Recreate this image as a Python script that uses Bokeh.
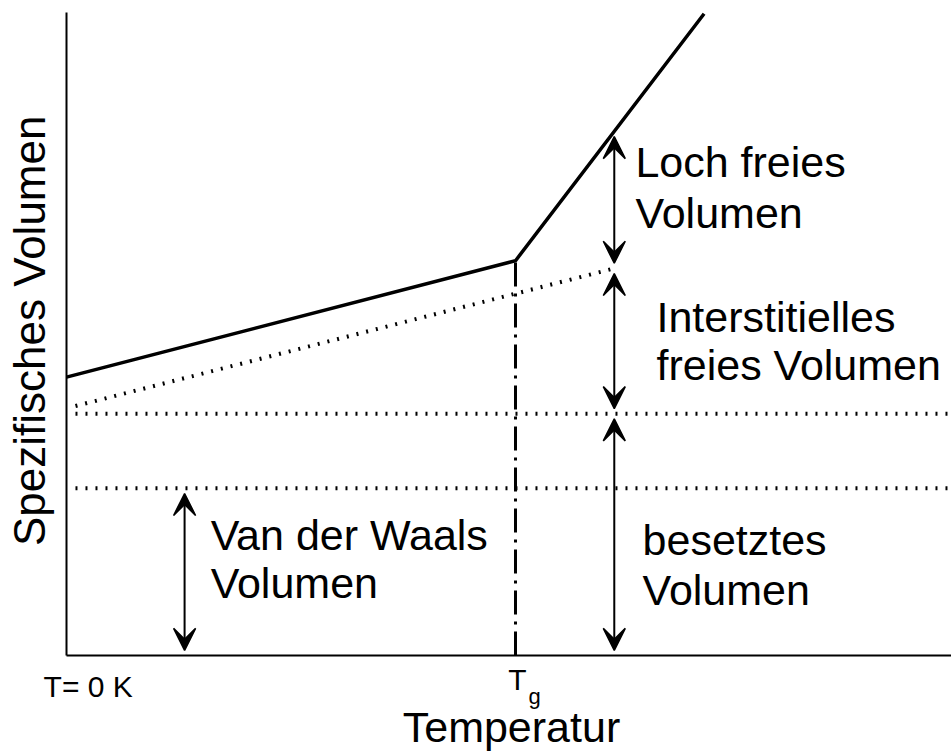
import math
from bokeh.plotting import figure
from bokeh.models import ColumnDataSource, Arrow, VeeHead, Range1d
from bokeh.core.properties import value
from bokeh.embed import file_html
from bokeh.resources import INLINE

# ---------------- data (temperature in units with T_g = 100, specific volume 0..100) -------------
T_g = 100
T_axis_end = 197          # end of temperature axis
V_axis_end = 100          # top of volume axis

# solid curve: glass below T_g, melt above T_g
curve_T = [0, 100, 142]
curve_V = [43.3, 61.4, 99.8]

# extrapolated glass line (dotted)
glass_T = [2, 122]
glass_V = [38.8, 60.2]

# horizontal dotted levels
level_T = [2, 197]
occupied_V = 37.6      # besetztes Volumen
vdw_V = 26.0           # Van der Waals Volumen

# double arrows (temperature position, lower and upper volume)
arrow_T = [26.3, 122, 122, 122]
arrow_V0 = [0.0, 60.2, 37.6, 0.0]
arrow_V1 = [26.0, 81.5, 60.2, 37.6]

# texts
axis_x_title = "Temperatur"
axis_y_title = "Spezifisches Volumen"
tick_zero = "T= 0 K"
tick_tg = ["T", "g"]
region_labels = [
    ["Loch freies", "Volumen"],
    ["Interstitielles", "freies Volumen"],
    ["besetztes", "Volumen"],
    ["Van der Waals", "Volumen"],
]

# ---------------- figure -------------------------------------------------------------------------
PX_T = 4.49   # pixels per temperature unit
PX_V = 6.43   # pixels per volume unit
W, H = 951, 753
x0 = -66 / PX_T
y0 = -98 / PX_V
p = figure(width=W, height=H, output_backend="svg", toolbar_location=None,
           x_range=Range1d(x0, x0 + W / PX_T), y_range=Range1d(y0, y0 + H / PX_V),
           x_axis_location=None, y_axis_location=None, min_border=0)
p.outline_line_color = None
p.grid.visible = False
p.background_fill_color = "white"
p.border_fill_color = "white"

FONT = value("Liberation Sans")

# axis spines
p.line([0, T_axis_end], [0, 0], line_color="black", line_width=2)
p.line([0, 0], [0, V_axis_end], line_color="black", line_width=2)

# dotted levels
dot = dict(line_color="black", line_width=4, line_dash="2 8")
p.line(level_T, [occupied_V, occupied_V], **dot)
p.line(level_T, [vdw_V, vdw_V], **dot)
p.line(glass_T, glass_V, **dot)

# T_g dash-dot line
p.line([T_g, T_g], [0, curve_V[1]], line_color="black", line_width=3, line_dash="24 7 3 7")

# main curve
p.line(curve_T, curve_V, line_color="black", line_width=3.5, line_join="miter")

# arrows
gap = 0.8
src = ColumnDataSource(dict(x=arrow_T, y0=[v + gap for v in arrow_V0],
                            y1=[v - gap for v in arrow_V1]))
p.add_layout(Arrow(x_start="x", y_start="y0", x_end="x", y_end="y1", source=src,
                   line_color="black", line_width=2,
                   start=VeeHead(size=22, fill_color="black", line_color="black", line_width=1.5),
                   end=VeeHead(size=22, fill_color="black", line_color="black", line_width=1.5)))

# region labels
lab_pos = [(126.7, 76.75, 68.8), (131.4, 52.6, 45.2), (128.3, 18.0, 10.2), (32.1, 18.7, 11.3)]
lx, ly, lt = [], [], []
for (x, ya, yb), (a, b) in zip(lab_pos, region_labels):
    lx += [x, x]
    ly += [ya, yb]
    lt += [a, b]
p.text(lx, ly, text=lt, text_font=FONT, text_font_size=value("43px"),
       text_align="left", text_baseline="alphabetic", text_color="black")

# axis titles
p.text([-8.2], [50.5], text=[axis_y_title], angle=math.pi / 2, text_font=FONT,
       text_font_size=value("44px"), text_align="center", text_baseline="alphabetic",
       text_color="black")
p.text([99.1], [-11.1], text=[axis_x_title], text_font=FONT, text_font_size=value("43px"),
       text_align="center", text_baseline="alphabetic", text_color="black")

# tick-like labels
p.text([-5.1], [-4.85], text=[tick_zero], text_font=FONT, text_font_size=value("30px"),
       text_align="left", text_baseline="alphabetic", text_color="black")
p.text([T_g + 0.4], [-3.8], text=[tick_tg[0]], text_font=FONT, text_font_size=value("30px"),
       text_align="center", text_baseline="alphabetic", text_color="black")
p.text([T_g + 2.9], [-6.4], text=[tick_tg[1]], text_font=FONT, text_font_size=value("22px"),
       text_align="left", text_baseline="alphabetic", text_color="black")

open("out.html", "w").write(file_html(p, INLINE))
